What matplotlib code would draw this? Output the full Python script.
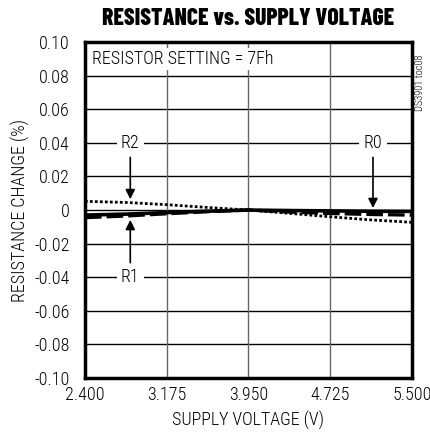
import matplotlib
matplotlib.use("Agg")
import matplotlib.pyplot as plt

voltage = [2.4, 2.8, 3.175, 3.55, 3.95, 4.35, 4.725, 5.1, 5.5]
r0 = [-0.0030, -0.0024, -0.0015, -0.0007, 0.0, -0.0003, -0.0005, -0.0007, -0.0008]
r1 = [-0.0045, -0.0035, -0.0022, -0.0010, 0.0, -0.0012, -0.0020, -0.0026, -0.0030]
r2 = [0.0052, 0.0045, 0.0032, 0.0016, 0.0, -0.0020, -0.0040, -0.0058, -0.0073]
xticks = [2.4, 3.175, 3.95, 4.725, 5.5]
xlabels = ["2.400", "3.175", "3.950", "4.725", "5.500"]
yticks = [-0.10, -0.08, -0.06, -0.04, -0.02, 0, 0.02, 0.04, 0.06, 0.08, 0.10]
ylabels = ["-0.10", "-0.08", "-0.06", "-0.04", "-0.02", "0", "0.02", "0.04", "0.06", "0.08", "0.10"]

plt.rcParams['font.family'] = ['Roboto Condensed', 'Archivo Narrow', 'DejaVu Sans']
FS = 13

fig = plt.figure(figsize=(4.31, 4.34), dpi=100)
ax = fig.add_axes([0.197, 0.129, 0.759, 0.774])
ax.set_xlim(2.4, 5.5)
ax.set_ylim(-0.10, 0.10)
ax.set_xticks(xticks)
ax.set_xticklabels(xlabels, fontsize=FS, fontweight='light')
ax.set_yticks(yticks)
ax.set_yticklabels(ylabels, fontsize=FS, fontweight='light')
ax.tick_params(axis='y', length=0, pad=11)
ax.tick_params(axis='x', length=0, pad=6)

for y in yticks[1:-1]:
    ax.axhline(y, color='black', lw=1.0, zorder=1)
for x in xticks[1:-1]:
    ax.axvline(x, color='#666666', lw=1.0, zorder=1)

for s in ax.spines.values():
    s.set_linewidth(2.5)

ax.plot(voltage, r0, color='black', lw=2.6, ls='-', zorder=4)
ax.plot(voltage, r1, color='black', lw=2.4, ls=(0, (5, 1.5)), zorder=4)
ax.plot(voltage, r2, color='black', lw=2.0, ls=(0, (1, 0.8)), zorder=4)

ax.text(2.47, 0.09, "RESISTOR SETTING = 7Fh", fontsize=FS, fontweight='light', va='center', ha='left',
        bbox=dict(facecolor='white', edgecolor='none', pad=1.5), zorder=3)

bb = dict(facecolor='white', edgecolor='none', pad=3)
ax.text(2.83, 0.04, "R2", fontsize=FS, fontweight='light', ha='center', va='center', bbox=bb, zorder=3)
ax.annotate("", xy=(2.83, 0.0048), xytext=(2.83, 0.033),
            arrowprops=dict(arrowstyle='-|>', color='black', lw=1.2, mutation_scale=14), zorder=5)
ax.text(2.83, -0.04, "R1", fontsize=FS, fontweight='light', ha='center', va='center', bbox=bb, zorder=3)
ax.annotate("", xy=(2.83, -0.0042), xytext=(2.83, -0.033),
            arrowprops=dict(arrowstyle='-|>', color='black', lw=1.2, mutation_scale=14), zorder=5)
ax.text(5.13, 0.04, "R0", fontsize=FS, fontweight='light', ha='center', va='center', bbox=bb, zorder=3)
ax.annotate("", xy=(5.13, -0.0005), xytext=(5.13, 0.033),
            arrowprops=dict(arrowstyle='-|>', color='black', lw=1.2, mutation_scale=14), zorder=5)

ax.set_xlabel("SUPPLY VOLTAGE (V)", fontsize=FS, fontweight='light', labelpad=5)
ax.set_ylabel("RESISTANCE CHANGE (%)", fontsize=FS, fontweight='light', labelpad=3)
fig.text(0.576, 0.957, "RESISTANCE vs. SUPPLY VOLTAGE", fontsize=17, fontweight=800,
         ha='center', va='center', family=['Barlow Condensed', 'Archivo Narrow', 'DejaVu Sans'])
fig.text(0.975, 0.81, "DS3901 toc08", fontsize=7.5, fontweight='light', rotation=90, ha='center', va='center')

fig.savefig("out.png", dpi=100)
